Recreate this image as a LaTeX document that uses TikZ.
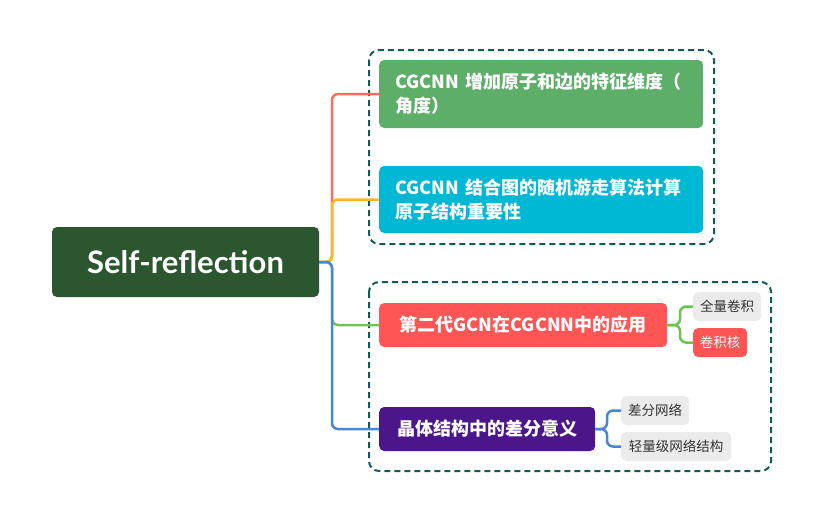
\documentclass[tikz,border=0pt]{standalone}
\usepackage{fontspec}
\setmainfont{Noto Sans CJK SC}
\newfontfamily\rootfont{Lato}
\definecolor{rootgreen}{HTML}{2B5630}
\definecolor{boxgreen}{HTML}{5DAE68}
\definecolor{boxcyan}{HTML}{00B8D4}
\definecolor{boxred}{HTML}{FF5555}
\definecolor{boxpurple}{HTML}{4B168A}
\definecolor{leafgray}{HTML}{EBEBEB}
\definecolor{frame}{HTML}{0E5C55}
\definecolor{linered}{HTML}{FF6B5B}
\definecolor{lineorange}{HTML}{FFB423}
\definecolor{linegreen}{HTML}{6CC552}
\definecolor{lineblue}{HTML}{4A86D8}

\begin{document}
\begin{tikzpicture}[x=1pt, y=-1pt,
    roottopic/.style={fill=rootgreen, text=white, rounded corners=5pt,
        minimum width=267pt, minimum height=70pt, font=\rootfont\bfseries\fontsize{31}{36}\selectfont},
    subtopic/.style={rounded corners=5pt, text=white, anchor=west, inner xsep=18pt,
        font=\bfseries\fontsize{18}{24}\selectfont},
    widetopic/.style={subtopic, text width=292pt, align=left, inner xsep=16pt},
    leaf/.style={fill=leafgray, text=black!80, rounded corners=5pt, anchor=west,
        minimum height=29pt, inner xsep=0pt, font=\fontsize{13.5}{16}\selectfont},
    group/.style={draw=frame, line width=2pt, dash pattern=on 6pt off 4pt, rounded corners=10pt},
    branch/.style={line width=2.5pt, rounded corners=6pt}]
    \useasboundingbox (0,0) rectangle (821,522);

    \draw[group] (369,50) rectangle (714,244);
    \draw[group] (369,282) rectangle (771,471);

    \node[roottopic] (root) at (185.5,262) {Self-reflection};

    \node[widetopic, fill=boxgreen, minimum height=68pt] (angle) at (379,94)
        {CGCNN~增加原子和边的特征维度（\\角度）};
    \node[widetopic, fill=boxcyan, minimum height=67pt] (walk) at (379,199.5)
        {CGCNN~结合图的随机游走算法计算\\原子结构重要性};
    \node[subtopic, fill=boxred, minimum width=288pt, minimum height=44pt] (gcn) at (379,325)
        {第二代GCN在CGCNN中的应用};
    \node[subtopic, fill=boxpurple, minimum width=216pt, minimum height=44pt] (diff) at (379,429)
        {晶体结构中的差分意义};

    \node[leaf, minimum width=68pt] (full) at (693,306.5) {全量卷积};
    \node[leaf, fill=boxred, text=white, minimum width=54pt] (kernel) at (693,342.5) {卷积核};
    \node[leaf, minimum width=68pt] (diffnet) at (621,410.5) {差分网络};
    \node[leaf, minimum width=110pt] (light) at (621,446.5) {轻量级网络结构};

    \coordinate (trunk) at (332,262);
    \draw[branch, linered] (root.east) -- (trunk) |- (angle.west);
    \draw[branch, lineorange] (root.east) -- (trunk) |- (walk.west);
    \draw[branch, linegreen] (root.east) -- (trunk) |- (gcn.west);
    \draw[branch, lineblue] (root.east) -- (trunk) |- (diff.west);

    \coordinate (gcnfork) at (680,325);
    \draw[branch, linegreen] (gcn.east) -- (gcnfork) |- (full.west);
    \draw[branch, linegreen] (gcn.east) -- (gcnfork) |- (kernel.west);
    \coordinate (difffork) at (607,429);
    \draw[branch, lineblue] (diff.east) -- (difffork) |- (diffnet.west);
    \draw[branch, lineblue] (diff.east) -- (difffork) |- (light.west);
\end{tikzpicture}
\end{document}
